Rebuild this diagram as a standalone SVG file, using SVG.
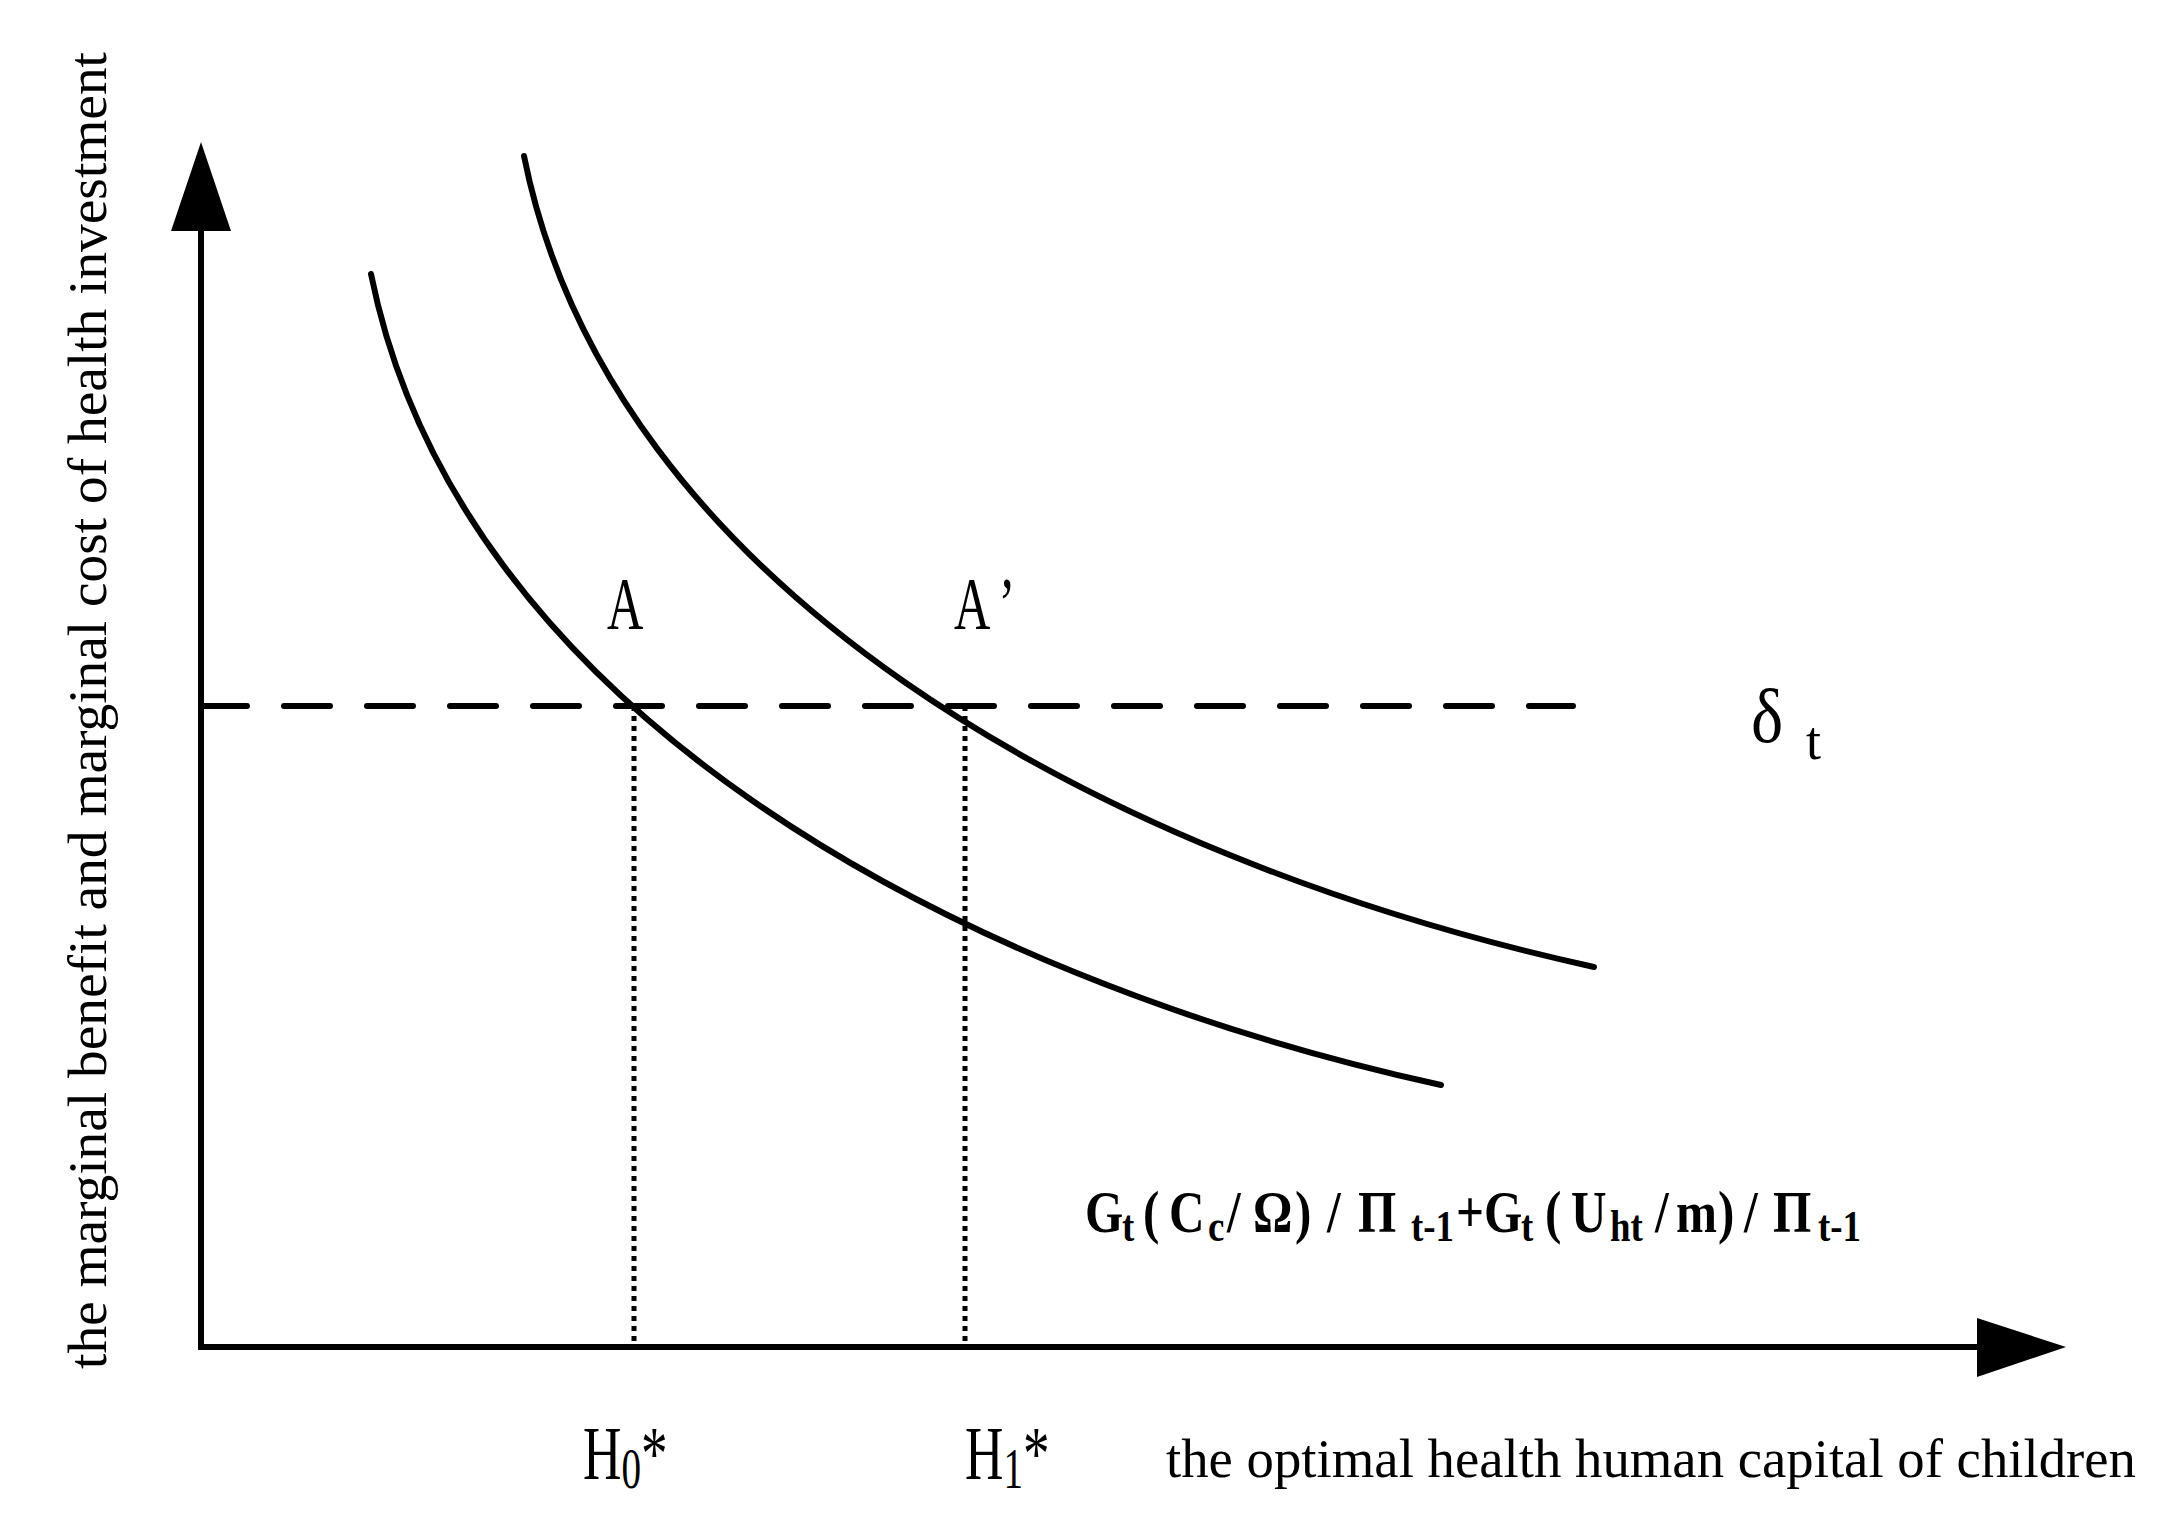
<svg xmlns="http://www.w3.org/2000/svg" width="2168" height="1532" viewBox="0 0 2168 1532">
<style>
  .ax { stroke:#000; stroke-width:6; fill:none; }
  .curve { stroke:#000; stroke-width:6; fill:none; stroke-linecap:round; }
  .dash { stroke:#000; stroke-width:6; fill:none; stroke-linecap:round; stroke-dasharray:46 37; }
  .dot { stroke:#000; stroke-width:5; fill:none; stroke-dasharray:5 5; }
  .head { fill:#000; }
  .lbl { font-family:"Liberation Serif","Times New Roman",serif; fill:#000; }
  .fm { font-family:"Liberation Serif","Times New Roman",serif; font-weight:bold; fill:#000; font-size:60px; }
  .sub { font-size:45px; }
</style>
<rect width="2168" height="1532" fill="#fff"/>
<g id="connectors">
  <g id="y-axis">
    <line class="ax" x1="201" y1="228" x2="201" y2="1350"/>
    <polygon class="head" points="201,142 171,231 231,231"/>
  </g>
  <g id="x-axis">
    <line class="ax" x1="198" y1="1347" x2="1980" y2="1347"/>
    <polygon class="head" points="2066,1347 1977,1318 1977,1377"/>
  </g>
  <line id="delta-line" class="dash" x1="201" y1="706" x2="1573" y2="706"/>
  <line id="drop-H0" class="dot" x1="634" y1="706" x2="634" y2="1347"/>
  <line id="drop-H1" class="dot" x1="965" y1="706" x2="965" y2="1347"/>
  <path id="curve-0" class="curve" d="M371,274 C457,704 941,975 1441,1085"/>
  <path id="curve-1" class="curve" d="M524,156 C610,586 1094,857 1594,967"/>
</g>
<g id="label-A">
  <text class="lbl" font-size="74" transform="translate(607,629) scale(0.68,1)">A</text>
</g>
<g id="label-A-prime">
  <text class="lbl" font-size="74" transform="translate(954,629) scale(0.68,1)">A<tspan dx="12">’</tspan></text>
</g>
<g id="label-delta">
  <text class="lbl" font-size="76" transform="translate(1751,742) scale(0.9,1)">δ</text>
  <text class="lbl" font-size="54" x="1806" y="759">t</text>
</g>
<g id="label-H0">
  <text class="lbl" font-size="76" transform="translate(583,1479) scale(0.7,1)">H<tspan font-size="56" dy="9">0</tspan><tspan dy="-9">*</tspan></text>
</g>
<g id="label-H1">
  <text class="lbl" font-size="76" transform="translate(965,1479) scale(0.7,1)">H<tspan font-size="56" dy="9">1</tspan><tspan dy="-9">*</tspan></text>
</g>
<g id="x-title">
  <text class="lbl" font-size="55" x="1166" y="1477" textLength="970" lengthAdjust="spacingAndGlyphs">the optimal health human capital of children</text>
</g>
<g id="y-title">
  <text class="lbl" font-size="55" transform="translate(106,1369) rotate(-90)" textLength="1317" lengthAdjust="spacingAndGlyphs">the marginal benefit and marginal cost of health investment</text>
</g>
<g id="formula">
  <text class="fm" transform="scale(0.82,1)" y="1232"><tspan x="1323.2">G</tspan><tspan class="sub" x="1368.3" y="1241">t</tspan><tspan x="1393.9" y="1232">(</tspan><tspan x="1425.6">C</tspan><tspan class="sub" x="1473.2" y="1241">c</tspan><tspan x="1496.3" y="1232">/</tspan><tspan x="1528">Ω</tspan><tspan x="1579.3">)</tspan><tspan x="1618.3">/</tspan><tspan x="1656.1">Π</tspan><tspan class="sub" x="1720.7" y="1241">t-1</tspan><tspan x="1775.6" y="1232">+</tspan><tspan x="1809.8">G</tspan><tspan class="sub" x="1854.9" y="1241">t</tspan><tspan x="1884.1" y="1232">(</tspan><tspan x="1915.9">U</tspan><tspan class="sub" x="1963.4" y="1241">ht</tspan><tspan x="2018.3" y="1232">/</tspan><tspan x="2043.9">m</tspan><tspan x="2095.1">)</tspan><tspan x="2126.8">/</tspan><tspan x="2162.2">Π</tspan><tspan class="sub" x="2217.1" y="1241">t-1</tspan></text>
</g>
</svg>
